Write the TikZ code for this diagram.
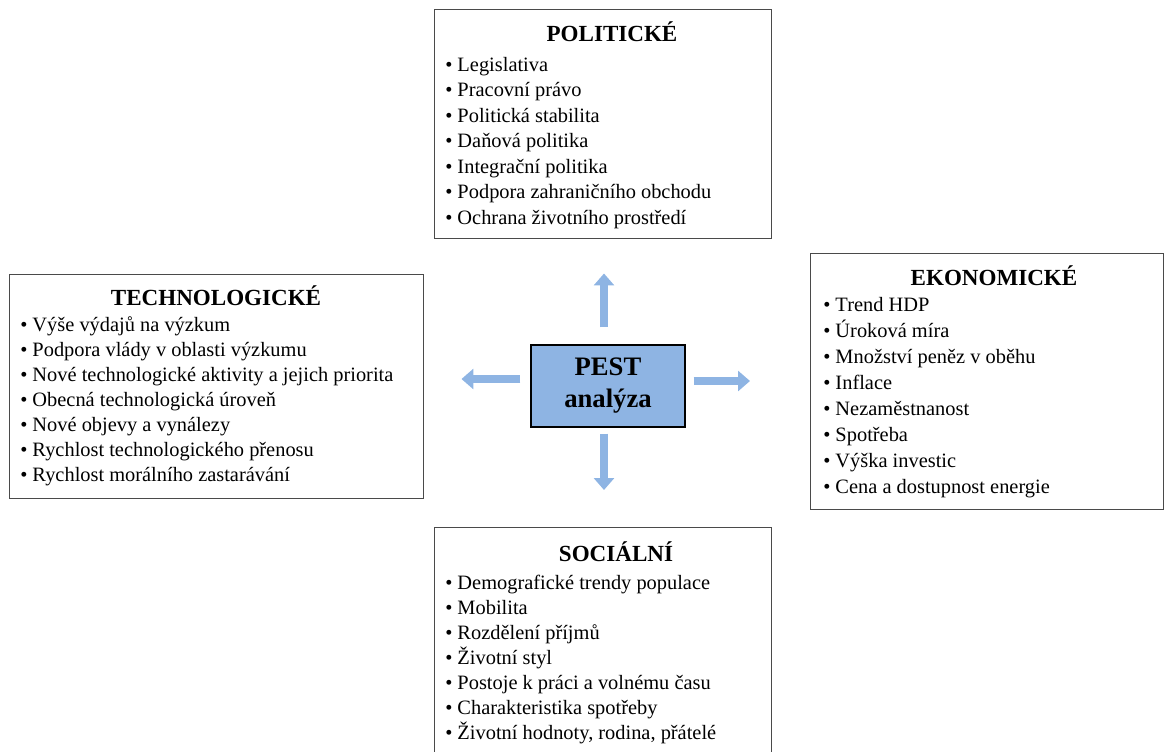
\documentclass[tikz,border=0pt]{standalone}
\usepackage{fontspec}
\setmainfont{Liberation Serif}
\usetikzlibrary{arrows.meta,calc,positioning}
\definecolor{pestblue}{HTML}{8EB4E3}
\definecolor{framegray}{HTML}{4A4A4A}
\tikzset{
  panel/.style={draw=framegray, line width=1.1pt, anchor=north west, inner sep=0pt},
  paneltitle/.style={font=\fontsize{17.3}{19}\selectfont\bfseries, anchor=base, inner sep=0pt},
  item/.style={font=\fontsize{15.3}{17}\selectfont, anchor=base west, inner sep=0pt},
  pestarrow/.style={draw=pestblue, line width=6.5pt, -{Triangle[length=9pt,width=15pt]}},
}
\begin{document}
\begin{tikzpicture}[x=0.75pt, y=-0.75pt]
\useasboundingbox (0,0) rectangle (1165,751);
% frames
\node[panel, minimum width=252.75pt, minimum height=171.75pt] (pol) at (434,9) {};
\node[panel, minimum width=310.5pt, minimum height=168pt] (tech) at (9,274) {};
\node[panel, minimum width=264.75pt, minimum height=192pt] (eko) at (810,253) {};
\node[panel, minimum width=252.75pt, minimum height=182.25pt] (soc) at (434,527) {};
\node[draw=black, line width=1pt, fill=pestblue, minimum width=115.5pt, minimum height=61.5pt,
      align=center, font=\fontsize{20}{24}\selectfont\bfseries] (pest) at (608,386) {PEST\\analýza};
% titles
\node[paneltitle] (poltitle) at (612,41) {POLITICKÉ};
\node[paneltitle] (techtitle) at (216,305) {TECHNOLOGICKÉ};
\node[paneltitle] (ekotitle) at (994,285) {EKONOMICKÉ};
\node[paneltitle] (soctitle) at (616,561) {SOCIÁLNÍ};
% items
\foreach \txt [count=\i] in {Legislativa, Pracovní právo, Politická stabilita, Daňová politika,
    Integrační politika, Podpora zahraničního obchodu, Ochrana životního prostředí}
  \node[item] (pol-\i) at (445,{71+(\i-1)*25.5}) {\textbullet\ \txt};
\foreach \txt [count=\i] in {Výše výdajů na výzkum, Podpora vlády v oblasti výzkumu,
    Nové technologické aktivity a jejich priorita, Obecná technologická úroveň,
    Nové objevy a vynálezy, Rychlost technologického přenosu, Rychlost morálního\ zastarávání}
  \node[item] (tech-\i) at (20,{331+(\i-1)*25}) {\textbullet\ \txt};
\foreach \txt [count=\i] in {Trend HDP, Úroková míra, Množství peněz v oběhu, Inflace,
    Nezaměstnanost, Spotřeba, Výška investic, Cena a dostupnost energie}
  \node[item] (eko-\i) at (823,{311+(\i-1)*26.1}) {\textbullet\ \txt};
\foreach \txt [count=\i] in {Demografické trendy populace, Mobilita, Rozdělení příjmů, Životní styl,
    Postoje k práci a volnému času, Charakteristika spotřeby, {Životní hodnoty, rodina, přátelé}}
  \node[item] (soc-\i) at (445,{589+(\i-1)*25}) {\textbullet\ \txt};
% arrows
\draw[pestarrow] ($(pest.north)+(-4,-17)$) -- ($(pest.north |- pol.south)+(-4,34)$);
\draw[pestarrow] ($(pest.east)+(8,-5)$) -- ($(pest.east -| eko.west)+(-60,-5)$);
\draw[pestarrow] ($(pest.south)+(-4,6)$) -- ($(pest.south |- soc.north)+(-4,-37)$);
\draw[pestarrow] ($(pest.west)+(-10,-7)$) -- ($(pest.west -| tech.east)+(37,-7)$);
\end{tikzpicture}
\end{document}
